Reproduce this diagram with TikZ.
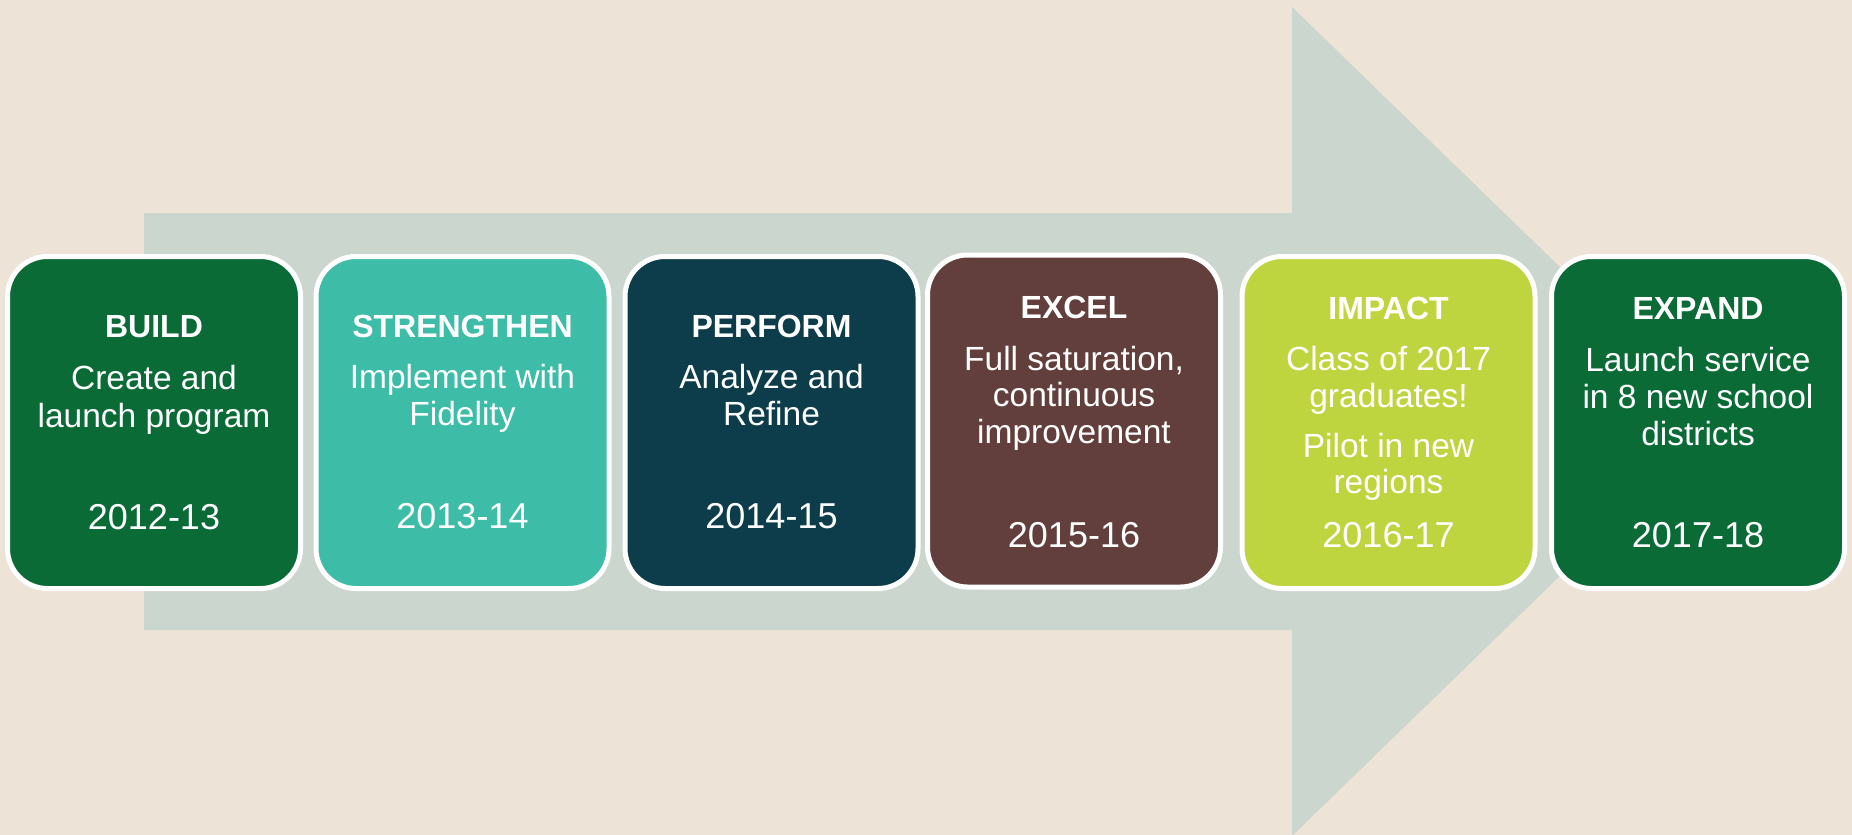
\documentclass[tikz,border=0pt]{standalone}
\usepackage{fontspec}
\setmainfont{Liberation Sans}
\definecolor{bgbeige}{RGB}{237,227,215}
\definecolor{arrowgrey}{RGB}{203,214,206}
\definecolor{cgreen}{RGB}{11,107,55}
\definecolor{cteal}{RGB}{61,188,168}
\definecolor{cnavy}{RGB}{13,61,75}
\definecolor{cbrown}{RGB}{98,63,60}
\definecolor{clime}{RGB}{191,213,64}
\tikzset{
  stagebox/.style={draw=white, line width=5pt, rounded corners=40pt,
    minimum width=293pt, minimum height=332pt, inner sep=0pt},
  ttl/.style={anchor=base, inner sep=0pt, text=white, font=\fontsize{32}{38}\selectfont\bfseries},
  txt/.style={anchor=base, inner sep=0pt, text=white, font=\fontsize{33.5}{38}\selectfont},
  yr/.style={anchor=base, inner sep=0pt, text=white, font=\fontsize{36}{40}\selectfont},
}
\begin{document}
\begin{tikzpicture}[x=1pt,y=-1pt]
\fill[bgbeige] (0,0) rectangle (1852,835);
\useasboundingbox (0,0) rectangle (1852,835);
% big arrow
\fill[arrowgrey] (144,213) -- (1292,213) -- (1292,7) -- (1719,421.5)
  -- (1292,836) -- (1292,630) -- (144,630) -- cycle;
% boxes
\node[stagebox, fill=cgreen] (b1) at (154,422.5) {};
\node[stagebox, fill=cteal]  (b2) at (462.5,422.5) {};
\node[stagebox, fill=cnavy]  (b3) at (771.5,422.5) {};
\node[stagebox, fill=cbrown] (b4) at (1074,421) {};
\node[stagebox, fill=clime]  (b5) at (1388.5,422.5) {};
\node[stagebox, fill=cgreen] (b6) at (1698,422.5) {};
% box 1
\node[ttl] (t1) at (154,337) {BUILD};
\node[txt] (t1a) at (154,389) {Create and};
\node[txt] (t1b) at (154,427) {launch program};
\node[yr]  (y1) at (154,529) {2012-13};
% box 2
\node[ttl] (t2) at (462.5,337) {STRENGTHEN};
\node[txt] (t2a) at (462.5,388) {Implement with};
\node[txt] (t2b) at (462.5,425) {Fidelity};
\node[yr]  (y2) at (462.5,528) {2013-14};
% box 3
\node[ttl] (t3) at (771.5,337) {PERFORM};
\node[txt] (t3a) at (771.5,388) {Analyze and};
\node[txt] (t3b) at (771.5,425) {Refine};
\node[yr]  (y3) at (771.5,528) {2014-15};
% box 4
\node[ttl] (t4) at (1074,318) {EXCEL};
\node[txt] (t4a) at (1074,370) {Full saturation,};
\node[txt] (t4b) at (1074,406) {continuous};
\node[txt] (t4c) at (1074,443) {improvement};
\node[yr]  (y4) at (1074,547) {2015-16};
% box 5
\node[ttl] (t5) at (1388.5,319) {IMPACT};
\node[txt] (t5a) at (1388.5,370) {Class of 2017};
\node[txt] (t5b) at (1388.5,407) {graduates!};
\node[txt] (t5c) at (1388.5,457) {Pilot in new};
\node[txt] (t5d) at (1388.5,493) {regions};
\node[yr]  (y5) at (1388.5,547) {2016-17};
% box 6
\node[ttl] (t6) at (1698,319) {EXPAND};
\node[txt] (t6a) at (1698,371) {Launch service};
\node[txt] (t6b) at (1698,408) {in 8 new school};
\node[txt] (t6c) at (1698,445) {districts};
\node[yr]  (y6) at (1698,547) {2017-18};
\end{tikzpicture}
\end{document}
